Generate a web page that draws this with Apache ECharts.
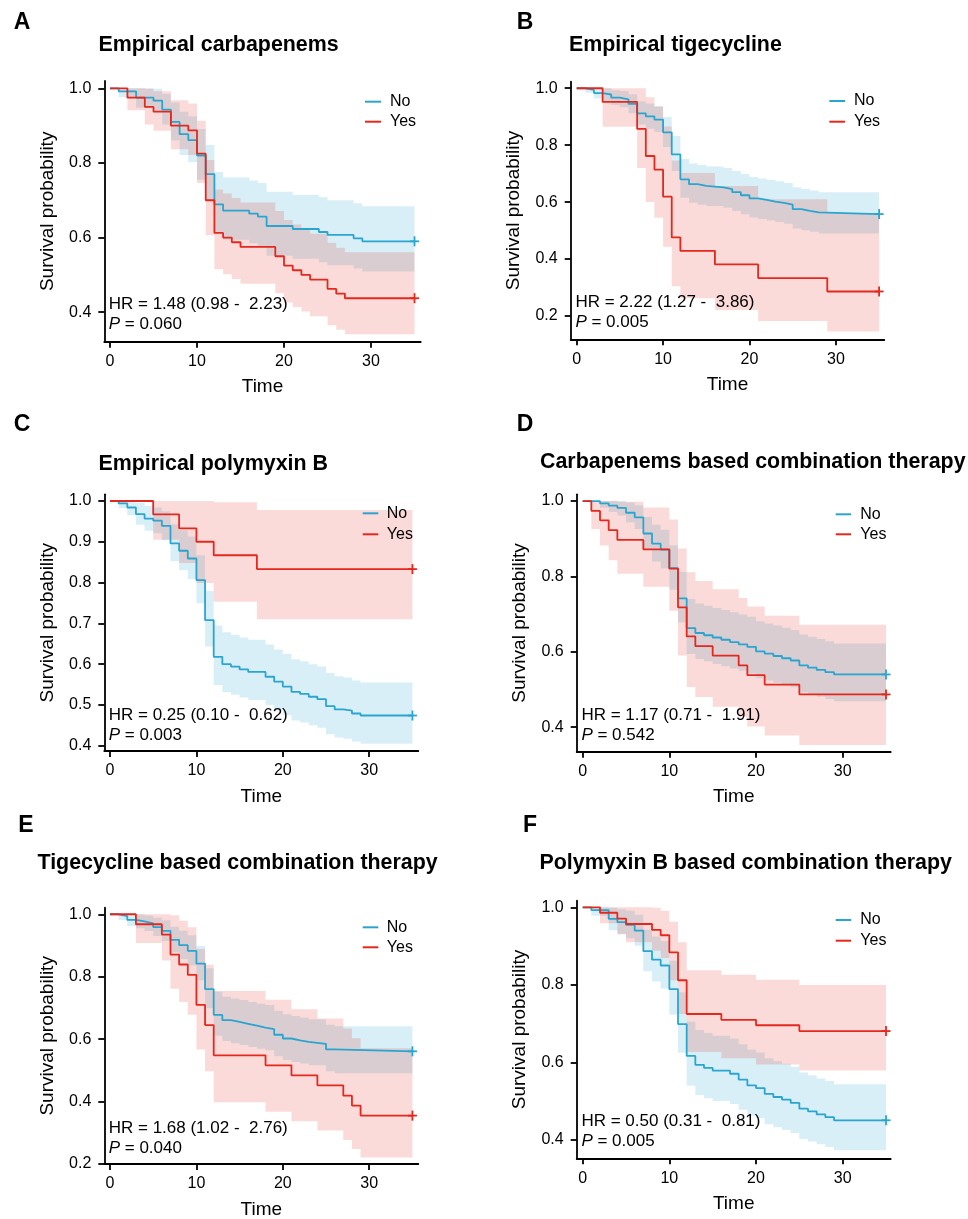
<!DOCTYPE html>
<html>
<head>
<meta charset="utf-8">
<title>Kaplan-Meier curves</title>
<script src="https://cdn.jsdelivr.net/npm/echarts@6.0.0/dist/echarts.min.js"></script>
<style>
  html, body { margin: 0; padding: 0; background: #fff; }
  #chart { width: 968px; height: 1219px; }
</style>
</head>
<body>
<div id="chart"></div>
<script>
// values: event times, survival estimate, lower / upper 95% CI
const followUpEnd = 35
const timeTicks = [0, 10, 20, 30]

// A  Empirical carbapenems
const aNoTime = [1, 3, 5, 6, 7, 8, 9, 10, 11, 12, 13, 16, 17, 18, 21, 24, 25, 28, 29]
const aNoSurv = [0.992, 0.975, 0.967, 0.943, 0.910, 0.877, 0.861, 0.820, 0.770, 0.689, 0.672, 0.664, 0.656, 0.631, 0.623, 0.615, 0.607, 0.598, 0.590]
const aNoLower = [0.976, 0.948, 0.936, 0.903, 0.861, 0.821, 0.802, 0.755, 0.699, 0.612, 0.594, 0.585, 0.577, 0.551, 0.543, 0.534, 0.526, 0.517, 0.509]
const aNoUpper = [1.000, 1.000, 0.999, 0.985, 0.962, 0.937, 0.925, 0.891, 0.848, 0.776, 0.761, 0.753, 0.746, 0.723, 0.715, 0.708, 0.700, 0.692, 0.684]
const aYesTime = [2, 4, 5, 7, 9, 10, 11, 12, 13, 14, 15, 19, 20, 21, 22, 23, 25, 26, 27]
const aYesSurv = [0.975, 0.950, 0.9375, 0.900, 0.8875, 0.825, 0.700, 0.6125, 0.600, 0.5875, 0.575, 0.550, 0.525, 0.5125, 0.500, 0.4875, 0.4625, 0.450, 0.4375]
const aYesLower = [0.941, 0.903, 0.886, 0.837, 0.821, 0.746, 0.606, 0.515, 0.502, 0.489, 0.476, 0.451, 0.426, 0.414, 0.402, 0.389, 0.365, 0.353, 0.341]
const aYesUpper = [1.000, 0.999, 0.992, 0.968, 0.959, 0.913, 0.808, 0.729, 0.718, 0.706, 0.694, 0.671, 0.647, 0.635, 0.622, 0.610, 0.586, 0.573, 0.561]

// B  Empirical tigecycline
const bNoTime = [1, 2, 3, 4, 5, 6, 7, 8, 9, 10, 11, 12, 13, 14, 15, 17, 18, 19, 20, 21, 22, 23, 24, 25, 26, 27, 28]
const bNoSurv = [0.994, 0.983, 0.978, 0.967, 0.961, 0.945, 0.912, 0.901, 0.890, 0.845, 0.768, 0.680, 0.663, 0.657, 0.652, 0.646, 0.635, 0.624, 0.613, 0.608, 0.602, 0.597, 0.591, 0.575, 0.569, 0.564, 0.558]
const bNoLower = [0.984, 0.964, 0.957, 0.941, 0.933, 0.912, 0.872, 0.858, 0.846, 0.794, 0.709, 0.615, 0.598, 0.591, 0.586, 0.580, 0.569, 0.557, 0.546, 0.541, 0.535, 0.530, 0.524, 0.507, 0.501, 0.496, 0.490]
const bNoUpper = [1.000, 1.000, 1.000, 0.993, 0.990, 0.979, 0.954, 0.946, 0.937, 0.899, 0.832, 0.751, 0.736, 0.730, 0.725, 0.720, 0.709, 0.699, 0.688, 0.683, 0.678, 0.673, 0.667, 0.652, 0.646, 0.641, 0.635]
const bYesTime = [3, 7, 8, 9, 10, 11, 12, 16, 21, 29]
const bYesSurv = [0.952, 0.857, 0.762, 0.714, 0.619, 0.476, 0.429, 0.381, 0.333, 0.286]
const bYesLower = [0.865, 0.720, 0.600, 0.545, 0.443, 0.304, 0.262, 0.221, 0.182, 0.145]
const bYesUpper = [1.000, 1.000, 0.968, 0.936, 0.866, 0.746, 0.702, 0.657, 0.610, 0.562]

// C  Empirical polymyxin B
const cNoTime = [1, 2, 3, 4, 5, 6, 7, 8, 9, 10, 11, 12, 13, 14, 15, 16, 18, 19, 20, 21, 22, 23, 24, 25, 26, 27, 28, 29]
const cNoSurv = [0.994, 0.984, 0.968, 0.957, 0.952, 0.939, 0.896, 0.878, 0.859, 0.806, 0.708, 0.618, 0.600, 0.594, 0.587, 0.581, 0.569, 0.557, 0.545, 0.532, 0.527, 0.520, 0.514, 0.497, 0.489, 0.486, 0.479, 0.474]
const cNoLower = [0.983, 0.965, 0.942, 0.927, 0.921, 0.904, 0.852, 0.830, 0.809, 0.749, 0.643, 0.549, 0.531, 0.525, 0.518, 0.512, 0.500, 0.487, 0.475, 0.462, 0.457, 0.450, 0.444, 0.428, 0.420, 0.417, 0.410, 0.405]
const cNoUpper = [1.000, 1.000, 0.995, 0.988, 0.984, 0.975, 0.943, 0.928, 0.913, 0.867, 0.779, 0.695, 0.678, 0.672, 0.665, 0.660, 0.648, 0.636, 0.625, 0.612, 0.607, 0.600, 0.594, 0.578, 0.570, 0.567, 0.560, 0.555]
const cYesTime = [5, 8, 10, 12, 17]
const cYesSurv = [0.967, 0.933, 0.900, 0.867, 0.833]
const cYesLower = [0.905, 0.848, 0.799, 0.753, 0.710]
const cYesUpper = [1.000, 1.000, 1.000, 0.997, 0.978]

// D  Carbapenems based combination therapy
const dNoTime = [2, 3, 4, 5, 6, 7, 8, 9, 10, 11, 12, 13, 14, 15, 16, 17, 18, 19, 20, 21, 22, 23, 24, 25, 26, 27, 28, 29]
const dNoSurv = [0.994, 0.988, 0.982, 0.969, 0.957, 0.914, 0.887, 0.871, 0.822, 0.742, 0.663, 0.650, 0.644, 0.638, 0.632, 0.626, 0.620, 0.613, 0.601, 0.595, 0.589, 0.583, 0.577, 0.564, 0.558, 0.552, 0.546, 0.540]
const dNoLower = [0.982, 0.971, 0.962, 0.943, 0.926, 0.872, 0.840, 0.821, 0.765, 0.678, 0.594, 0.581, 0.575, 0.568, 0.562, 0.556, 0.550, 0.543, 0.530, 0.524, 0.518, 0.512, 0.506, 0.493, 0.487, 0.481, 0.475, 0.469]
const dNoUpper = [1.000, 1.000, 1.000, 0.996, 0.989, 0.958, 0.937, 0.924, 0.883, 0.812, 0.740, 0.728, 0.722, 0.716, 0.711, 0.705, 0.699, 0.693, 0.681, 0.675, 0.670, 0.664, 0.658, 0.646, 0.640, 0.634, 0.628, 0.622]
const dYesTime = [1, 2, 3, 4, 7, 10, 11, 12, 13, 15, 18, 19, 21, 25]
const dYesSurv = [0.974, 0.949, 0.923, 0.897, 0.872, 0.821, 0.718, 0.641, 0.615, 0.590, 0.564, 0.538, 0.513, 0.487]
const dYesLower = [0.926, 0.882, 0.843, 0.807, 0.773, 0.709, 0.590, 0.507, 0.480, 0.454, 0.428, 0.402, 0.378, 0.353]
const dYesUpper = [1.000, 1.000, 1.000, 0.998, 0.983, 0.951, 0.874, 0.811, 0.788, 0.766, 0.743, 0.720, 0.696, 0.672]

// E  Tigecycline based combination therapy
const eNoTime = [1, 2, 3, 4, 5, 6, 7, 8, 9, 10, 11, 12, 13, 14, 15, 16, 17, 18, 19, 20, 21, 22, 23, 25, 26]
const eNoSurv = [0.994, 0.982, 0.977, 0.971, 0.959, 0.947, 0.918, 0.901, 0.883, 0.842, 0.760, 0.678, 0.661, 0.655, 0.649, 0.643, 0.637, 0.632, 0.614, 0.602, 0.596, 0.591, 0.585, 0.567, 0.561]
const eNoLower = [0.982, 0.962, 0.955, 0.946, 0.930, 0.914, 0.878, 0.857, 0.836, 0.789, 0.699, 0.611, 0.594, 0.587, 0.581, 0.575, 0.569, 0.564, 0.545, 0.533, 0.527, 0.522, 0.516, 0.497, 0.491]
const eNoUpper = [1.000, 1.000, 1.000, 0.996, 0.989, 0.981, 0.960, 0.947, 0.933, 0.898, 0.827, 0.752, 0.736, 0.730, 0.725, 0.719, 0.713, 0.709, 0.691, 0.680, 0.674, 0.669, 0.664, 0.646, 0.641]
const eYesTime = [3, 6, 7, 8, 9, 10, 11, 12, 18, 21, 24, 27, 28, 29]
const eYesSurv = [0.968, 0.935, 0.871, 0.839, 0.806, 0.710, 0.645, 0.548, 0.516, 0.484, 0.452, 0.419, 0.387, 0.355]
const eYesLower = [0.908, 0.852, 0.761, 0.719, 0.678, 0.567, 0.497, 0.398, 0.367, 0.337, 0.307, 0.277, 0.248, 0.221]
const eYesUpper = [1.000, 1.000, 0.997, 0.979, 0.958, 0.889, 0.838, 0.754, 0.726, 0.696, 0.666, 0.634, 0.603, 0.571]

// F  Polymyxin B based combination therapy
const fNoTime = [1, 3, 4, 5, 6, 7, 8, 9, 10, 11, 12, 13, 14, 15, 17, 18, 19, 20, 21, 22, 23, 24, 25, 26, 27, 28, 29]
const fNoSurv = [0.9925, 0.970, 0.962, 0.955, 0.940, 0.887, 0.865, 0.850, 0.789, 0.699, 0.617, 0.594, 0.586, 0.579, 0.571, 0.556, 0.541, 0.534, 0.519, 0.511, 0.504, 0.496, 0.481, 0.474, 0.466, 0.459, 0.451]
const fNoLower = [0.978, 0.941, 0.930, 0.920, 0.901, 0.835, 0.809, 0.791, 0.723, 0.625, 0.540, 0.516, 0.508, 0.501, 0.493, 0.478, 0.463, 0.456, 0.441, 0.433, 0.426, 0.418, 0.403, 0.396, 0.389, 0.382, 0.374]
const fNoUpper = [1.000, 0.999, 0.995, 0.991, 0.981, 0.942, 0.925, 0.913, 0.862, 0.781, 0.705, 0.684, 0.676, 0.669, 0.662, 0.647, 0.633, 0.626, 0.611, 0.603, 0.597, 0.589, 0.574, 0.567, 0.559, 0.552, 0.544]
const fYesTime = [2, 4, 5, 8, 9, 10, 11, 12, 16, 20, 25]
const fYesSurv = [0.986, 0.971, 0.957, 0.942, 0.928, 0.884, 0.812, 0.725, 0.710, 0.696, 0.681]
const fYesLower = [0.959, 0.932, 0.910, 0.888, 0.869, 0.812, 0.725, 0.627, 0.611, 0.595, 0.579]
const fYesUpper = [1.000, 1.000, 1.000, 0.999, 0.991, 0.963, 0.910, 0.838, 0.826, 0.813, 0.800]

const panelLetters = ['A', 'B', 'C', 'D', 'E', 'F']
const panelTitles = [
  'Empirical carbapenems',
  'Empirical tigecycline',
  'Empirical polymyxin B',
  'Carbapenems based combination therapy',
  'Tigecycline based combination therapy',
  'Polymyxin B based combination therapy'
]
const hrLabels = [
  'HR = 1.48 (0.98 -  2.23)',
  'HR = 2.22 (1.27 -  3.86)',
  'HR = 0.25 (0.10 -  0.62)',
  'HR = 1.17 (0.71 -  1.91)',
  'HR = 1.68 (1.02 -  2.76)',
  'HR = 0.50 (0.31 -  0.81)'
]
const pValues = ['0.060', '0.005', '0.003', '0.542', '0.040', '0.005']
const groupNames = ['No', 'Yes']
const probTicks = [
  [0.4, 0.6, 0.8, 1.0],
  [0.2, 0.4, 0.6, 0.8, 1.0],
  [0.4, 0.5, 0.6, 0.7, 0.8, 0.9, 1.0],
  [0.4, 0.6, 0.8, 1.0],
  [0.2, 0.4, 0.6, 0.8, 1.0],
  [0.4, 0.6, 0.8, 1.0]
]

const curves = [
  [{ t: aNoTime, s: aNoSurv, lo: aNoLower, up: aNoUpper }, { t: aYesTime, s: aYesSurv, lo: aYesLower, up: aYesUpper }],
  [{ t: bNoTime, s: bNoSurv, lo: bNoLower, up: bNoUpper }, { t: bYesTime, s: bYesSurv, lo: bYesLower, up: bYesUpper }],
  [{ t: cNoTime, s: cNoSurv, lo: cNoLower, up: cNoUpper }, { t: cYesTime, s: cYesSurv, lo: cYesLower, up: cYesUpper }],
  [{ t: dNoTime, s: dNoSurv, lo: dNoLower, up: dNoUpper }, { t: dYesTime, s: dYesSurv, lo: dYesLower, up: dYesUpper }],
  [{ t: eNoTime, s: eNoSurv, lo: eNoLower, up: eNoUpper }, { t: eYesTime, s: eYesSurv, lo: eYesLower, up: eYesUpper }],
  [{ t: fNoTime, s: fNoSurv, lo: fNoLower, up: fNoUpper }, { t: fYesTime, s: fYesSurv, lo: fYesLower, up: fYesUpper }]
]

// page layout (pixels) of each panel
const layout = [
  { left: 104.3, top: 81, width: 316.4, height: 260.7, xMin: -0.655, xMax: 35.71, yMin: 0.321, yMax: 1.0196, letter: [22, 23], title: [98.5, 45], stat: [108.7, 304], legend: [365, 381, 101.7, 121.7, 390] },
  { left: 570.7, top: 81.7, width: 313.6, height: 257.6, xMin: -0.69, xMax: 35.6, yMin: 0.118, yMax: 1.023, letter: [525, 23], title: [569, 45], stat: [575.4, 302.3], legend: [829.3, 845, 101, 121.7, 854] },
  { left: 104.3, top: 494.3, width: 314, height: 256.7, xMin: -0.66, xMax: 35.68, yMin: 0.387, yMax: 1.0164, letter: [22, 425], title: [98.5, 464], stat: [108.7, 715], legend: [362.7, 378.3, 513.3, 534.3, 386.8] },
  { left: 576.7, top: 494.3, width: 314, height: 257.4, xMin: -0.69, xMax: 35.54, yMin: 0.335, yMax: 1.018, letter: [525, 425], title: [540, 462], stat: [581.4, 715], legend: [835.7, 851, 514.3, 534.3, 860.3] },
  { left: 104.3, top: 907.7, width: 314, height: 256.3, xMin: -0.66, xMax: 35.68, yMin: 0.2, yMax: 1.021, letter: [26, 826], title: [37.5, 863], stat: [108.7, 1128.3], legend: [362.7, 378.3, 927.3, 947.3, 386.8] },
  { left: 576.7, top: 900.7, width: 314, height: 257.6, xMin: -0.69, xMax: 35.54, yMin: 0.353, yMax: 1.017, letter: [530, 826], title: [539.5, 863], stat: [581.4, 1121.7], legend: [835.7, 851, 920, 940.7, 860.3] }
]

const FONT = "'Liberation Sans', Arial, Helvetica, sans-serif"
const lineColors = ['#2AA5D0', '#E4281E']
const bandColors = ['rgba(42,165,208,0.18)', 'rgba(228,40,30,0.17)']

// survival step path in data units, starting at (0, 1)
function stepPath(times, vals) {
  const pts = [[0, 1]]
  let prev = 1
  times.forEach((t, i) => {
    pts.push([t, prev])
    pts.push([t, vals[i]])
    prev = vals[i]
  })
  pts.push([followUpEnd, prev])
  return pts
}

const grids = []
const xAxes = []
const yAxes = []
const series = []
const graphics = []

layout.forEach((l, i) => {
  grids.push({ left: l.left, top: l.top, width: l.width, height: l.height, containLabel: false, outerBoundsMode: 'none' })

  xAxes.push({
    gridIndex: i, type: 'value', min: l.xMin, max: l.xMax,
    name: 'Time', nameLocation: 'middle', nameGap: 36,
    nameTextStyle: { fontSize: 19, color: '#000', fontFamily: FONT },
    axisLine: { show: true, onZero: false, lineStyle: { color: '#000', width: 1.8 } },
    axisTick: { show: true, customValues: timeTicks, length: 6, lineStyle: { color: '#000', width: 1.8 } },
    axisLabel: { customValues: timeTicks, margin: 12, fontSize: 16, color: '#000', fontFamily: FONT },
    splitLine: { show: false }
  })
  yAxes.push({
    gridIndex: i, type: 'value', min: l.yMin, max: l.yMax,
    name: 'Survival probability', nameLocation: 'middle', nameGap: 47,
    nameTextStyle: { fontSize: 19, color: '#000', fontFamily: FONT },
    axisLine: { show: true, onZero: false, lineStyle: { color: '#000', width: 1.8 } },
    axisTick: { show: true, customValues: probTicks[i], length: 6, lineStyle: { color: '#000', width: 1.8 } },
    axisLabel: { customValues: probTicks[i], margin: 13, fontSize: 16, color: '#000', fontFamily: FONT, formatter: v => v.toFixed(1) },
    splitLine: { show: false }
  })

  // confidence bands
  curves[i].forEach((c, g) => {
    const poly = stepPath(c.t, c.up).concat(stepPath(c.t, c.lo).reverse())
    series.push({
      type: 'custom', xAxisIndex: i, yAxisIndex: i, silent: true, z: 1 + g,
      data: [[0, 1]],
      renderItem: (params, api) => ({
        type: 'polygon',
        shape: { points: poly.map(p => api.coord(p)) },
        style: { fill: bandColors[g] }
      })
    })
  })
  // survival curves
  curves[i].forEach((c, g) => {
    const pts = [[0, 1]].concat(c.t.map((t, k) => [t, c.s[k]]))
    pts.push([followUpEnd, c.s[c.s.length - 1]])
    series.push({
      name: groupNames[g], type: 'line', step: 'end', xAxisIndex: i, yAxisIndex: i,
      data: pts, showSymbol: false, silent: true, z: 5 + g,
      color: lineColors[g], lineStyle: { color: lineColors[g], width: 1.8 }
    })
  })
  // censor marks at the end of follow-up
  curves[i].forEach((c, g) => {
    series.push({
      type: 'custom', xAxisIndex: i, yAxisIndex: i, silent: true, z: 7,
      data: [[followUpEnd, c.s[c.s.length - 1]]],
      renderItem: (params, api) => {
        const p = api.coord([api.value(0), api.value(1)])
        const st = { stroke: lineColors[g], lineWidth: 1.8 }
        return {
          type: 'group',
          children: [
            { type: 'line', shape: { x1: p[0] - 4.5, y1: p[1], x2: p[0] + 4.5, y2: p[1] }, style: st },
            { type: 'line', shape: { x1: p[0], y1: p[1] - 5, x2: p[0], y2: p[1] + 5 }, style: st }
          ]
        }
      }
    })
  })

  // letters, titles, statistics, legend
  graphics.push({
    type: 'text', x: l.letter[0], y: l.letter[1], z: 100,
    style: { text: panelLetters[i], fill: '#000', fontSize: 23, fontWeight: 'bold', fontFamily: FONT, align: 'center', verticalAlign: 'middle', textAlign: 'center', textVerticalAlign: 'middle' }
  })
  graphics.push({
    type: 'text', x: l.title[0], y: l.title[1], z: 100,
    style: { text: panelTitles[i], fill: '#000', fontSize: 21.4, fontWeight: 'bold', fontFamily: FONT, align: 'left', verticalAlign: 'middle', textAlign: 'left', textVerticalAlign: 'middle' }
  })
  graphics.push({
    type: 'text', x: l.stat[0], y: l.stat[1], z: 100,
    style: { text: hrLabels[i], fill: '#000', fontSize: 17, fontFamily: FONT, align: 'left', verticalAlign: 'middle', textAlign: 'left', textVerticalAlign: 'middle' }
  })
  graphics.push({
    type: 'text', x: l.stat[0], y: l.stat[1] + 20, z: 100,
    style: {
      text: '{i|P} = ' + pValues[i], fill: '#000', fontSize: 17, fontFamily: FONT,
      align: 'left', verticalAlign: 'middle', textAlign: 'left', textVerticalAlign: 'middle',
      rich: { i: { fontStyle: 'italic', fontSize: 17, fontFamily: FONT, fill: '#000' } }
    }
  })
  const lg = l.legend
  groupNames.forEach((name, g) => {
    const y = g === 0 ? lg[2] : lg[3]
    graphics.push({ type: 'line', z: 100, shape: { x1: lg[0], y1: y, x2: lg[1], y2: y }, style: { stroke: lineColors[g], lineWidth: 2 } })
    graphics.push({
      type: 'text', x: lg[4], y: y, z: 100,
      style: { text: name, fill: '#000', fontSize: 16, fontFamily: FONT, align: 'left', verticalAlign: 'middle', textAlign: 'left', textVerticalAlign: 'middle' }
    })
  })
})

const chart = echarts.init(document.getElementById('chart'), null, { renderer: 'canvas' })
chart.setOption({
  backgroundColor: '#fff',
  animation: false,
  grid: grids,
  xAxis: xAxes,
  yAxis: yAxes,
  series: series,
  graphic: { elements: graphics }
})
window.addEventListener('resize', () => chart.resize())
</script>
</body>
</html>
